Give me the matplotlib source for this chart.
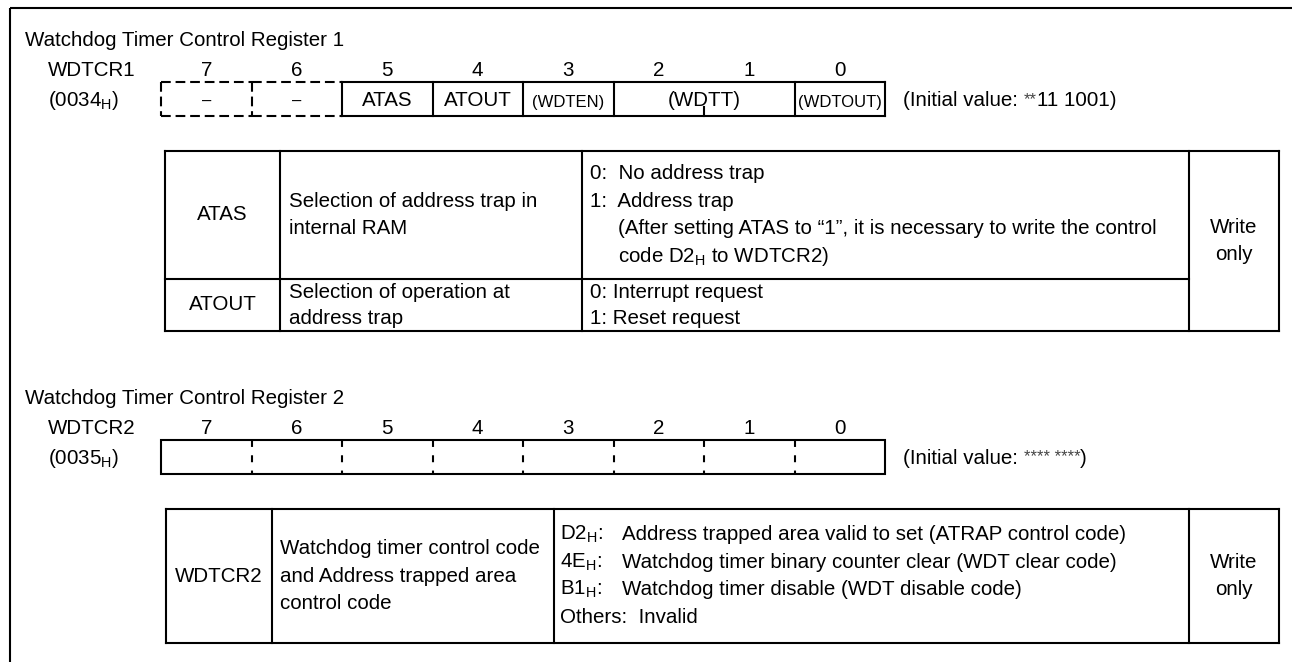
import matplotlib.pyplot as plt
from matplotlib.patches import Rectangle

plt.rcParams['font.family'] = ['Liberation Sans', 'DejaVu Sans']
plt.rcParams['mathtext.fontset'] = 'custom'
plt.rcParams['mathtext.rm'] = 'Liberation Sans'
plt.rcParams['mathtext.it'] = 'Liberation Sans'
plt.rcParams['mathtext.sf'] = 'Liberation Sans'
plt.rcParams['lines.scale_dashes'] = False

# ---- content ----
bits = [7, 6, 5, 4, 3, 2, 1, 0]

reg1_title = "Watchdog Timer Control Register 1"
reg1_name = "WDTCR1"
reg1_addr = r"(0034$_\mathrm{H}$)"
reg1_fields = ["–", "–", "ATAS", "ATOUT", "(WDTEN)", "(WDTT)", "(WDTOUT)"]
reg1_msb = [7, 6, 5, 4, 3, 2, 0]
reg1_lsb = [7, 6, 5, 4, 3, 1, 0]
reg1_reserved = ["–"]
reg1_small = ["(WDTEN)", "(WDTOUT)"]
reg1_init = ["(Initial value: ", "**", "11 1001)"]

reg2_title = "Watchdog Timer Control Register 2"
reg2_name = "WDTCR2"
reg2_addr = r"(0035$_\mathrm{H}$)"
reg2_init = ["(Initial value: ", "**** ****", ")"]

t1_names = ["ATAS", "ATOUT"]
t1_funcs = [["Selection of address trap in", "internal RAM"],
            ["Selection of operation at", "address trap"]]
t1_desc_head = [["0:  No address trap", "1:  Address trap"],
                ["0: Interrupt request", "1: Reset request"]]
t1_desc_cont = [["(After setting ATAS to \u201c1\u201d, it is necessary to write the control",
                 r"code D2$_\mathrm{H}$ to WDTCR2)"], []]
rw_text = ["Write", "only"]

t2_name = "WDTCR2"
t2_func = ["Watchdog timer control code", "and Address trapped area", "control code"]
t2_codes = [r"D2$_\mathrm{H}$:", r"4E$_\mathrm{H}$:", r"B1$_\mathrm{H}$:"]
t2_meaning = ["Address trapped area valid to set (ATRAP control code)",
              "Watchdog timer binary counter clear (WDT clear code)",
              "Watchdog timer disable (WDT disable code)"]
t2_other = "Others:  Invalid"

# ---- layout (pixels) ----
W, H = 1292, 662
FS = 14.8
SMALL = 12
LW = 1.5
BIT_X0, BIT_W = 161, 90.5

fig = plt.figure(figsize=(W / 100, H / 100), dpi=100)
ax = fig.add_axes([0, 0, 1, 1])
ax.set_xlim(0, W)
ax.set_ylim(H, 0)
ax.axis('off')
renderer = fig.canvas.get_renderer()


def bx(b):
    return BIT_X0 + (7 - b) * BIT_W


def txt(x, y, s, ha='left', size=FS, color='black'):
    return ax.text(x, y, s, ha=ha, va='center', fontsize=size, color=color)


def width(s, size=FS):
    t = txt(0, 0, s, size=size)
    w = t.get_window_extent(renderer).width
    t.remove()
    return w


def run(x, y, parts, sizes, colors):
    for s, sz, c in zip(parts, sizes, colors):
        txt(x, y, s, size=sz, color=c)
        x += width(s, sz)


def hline(x0, x1, y, **kw):
    ax.plot([x0, x1], [y, y], color='black', lw=LW, solid_capstyle='projecting', **kw)


def vline(x, y0, y1, **kw):
    ax.plot([x, x], [y0, y1], color='black', lw=LW, solid_capstyle='projecting', **kw)


# outer frame (cropped at right and bottom)
ax.add_patch(Rectangle((10, 8), 1400, 700, fill=False, lw=LW, ec='black'))

# ---- register 1 ----
R1_TITLE, R1_NUM, R1_TOP, R1_BOT = 40, 70, 82, 116
txt(25, R1_TITLE, reg1_title)
txt(92, R1_NUM, reg1_name, ha='center')
txt(84, 100, reg1_addr, ha='center')
for b in bits:
    txt(bx(b) + BIT_W / 2, R1_NUM, str(b), ha='center')

dash = dict(dashes=(7, 3.5))
first_solid = None
for name, msb, lsb in zip(reg1_fields, reg1_msb, reg1_lsb):
    x0, x1 = bx(msb), bx(lsb) + BIT_W
    cx = (x0 + x1) / 2
    if name in reg1_reserved:
        hline(x0, x1, R1_TOP, **dash)
        hline(x0, x1, R1_BOT, **dash)
        vline(x0, R1_TOP, R1_BOT, **dash)
        txt(cx, 101, name, ha='center', size=SMALL)
    else:
        if first_solid is None:
            first_solid = x0
        vline(x0, R1_TOP, R1_BOT)
        if name in reg1_small:
            txt(cx, 103, name, ha='center', size=SMALL)
        else:
            txt(cx, 100, name, ha='center')
        if msb != lsb:
            for b in range(lsb, msb):
                vline(bx(b), 107, R1_BOT)
hline(first_solid, bx(0) + BIT_W, R1_TOP)
hline(first_solid, bx(0) + BIT_W, R1_BOT)
vline(bx(0) + BIT_W, R1_TOP, R1_BOT)
run(903, 100, reg1_init, [FS, SMALL, FS], ['black', '#444444', 'black'])

# ---- table 1 ----
T1_TOP, T1_MID, T1_BOT = 151, 279, 331
c1 = [165, 280, 582, 1189, 1279]
hline(c1[0], c1[4], T1_TOP)
hline(c1[0], c1[4], T1_BOT)
hline(c1[0], c1[3], T1_MID)
for x in c1:
    vline(x, T1_TOP, T1_BOT)

row_tops = [T1_TOP, T1_MID]
row_bots = [T1_MID, T1_BOT]
LINE = 27.5
indent = width("1:  ")
for i, name in enumerate(t1_names):
    mid = (row_tops[i] + row_bots[i]) / 2
    step = LINE if i == 0 else 26
    txt((c1[0] + c1[1]) / 2, mid, name, ha='center')
    fl = t1_funcs[i]
    for j, s in enumerate(fl):
        txt(c1[1] + 9, mid + (j - (len(fl) - 1) / 2) * step, s)
    lines = t1_desc_head[i]
    n = len(lines) + len(t1_desc_cont[i])
    y0 = mid - (n - 1) / 2 * step
    for j, s in enumerate(lines):
        txt(c1[2] + 8, y0 + j * step, s)
    for j, s in enumerate(t1_desc_cont[i]):
        txt(c1[2] + 8 + indent, y0 + (len(lines) + j) * step, s)
rw_mid = (T1_TOP + T1_BOT) / 2
for j, s in enumerate(rw_text):
    txt((c1[3] + c1[4]) / 2, rw_mid + (j - 0.5) * LINE, s, ha='center')

# ---- register 2 ----
R2_TITLE, R2_NUM, R2_TOP, R2_BOT = 398, 428, 440, 474
txt(25, R2_TITLE, reg2_title)
txt(92, R2_NUM, reg2_name, ha='center')
txt(84, 458, reg2_addr, ha='center')
for b in bits:
    txt(bx(b) + BIT_W / 2, R2_NUM, str(b), ha='center')
ax.add_patch(Rectangle((bx(7), R2_TOP), 8 * BIT_W, R2_BOT - R2_TOP,
                       fill=False, lw=LW, ec='black'))
for b in bits[:-1]:
    vline(bx(b) + BIT_W, R2_TOP, R2_BOT, dashes=(5, 6))
run(903, 458, reg2_init, [FS, SMALL, FS], ['black', '#444444', 'black'])

# ---- table 2 ----
T2_TOP, T2_BOT = 509, 643
c2 = [166, 272, 554, 1189, 1279]
hline(c2[0], c2[4], T2_TOP)
hline(c2[0], c2[4], T2_BOT)
for x in c2:
    vline(x, T2_TOP, T2_BOT)
mid2 = (T2_TOP + T2_BOT) / 2
txt((c2[0] + c2[1]) / 2, mid2, t2_name, ha='center')
for j, s in enumerate(t2_func):
    txt(c2[1] + 8, mid2 + (j - 1) * LINE, s)
rows = len(t2_codes) + 1
for j, (code, desc) in enumerate(zip(t2_codes, t2_meaning)):
    y = mid2 + (j - (rows - 1) / 2) * LINE
    txt(c2[2] + 6, y, code)
    txt(c2[2] + 68, y, desc)
txt(c2[2] + 6, mid2 + (rows - 1) / 2 * LINE, t2_other)
for j, s in enumerate(rw_text):
    txt((c2[3] + c2[4]) / 2, mid2 + (j - 0.5) * LINE, s, ha='center')

fig.savefig('out.png', dpi=100)
